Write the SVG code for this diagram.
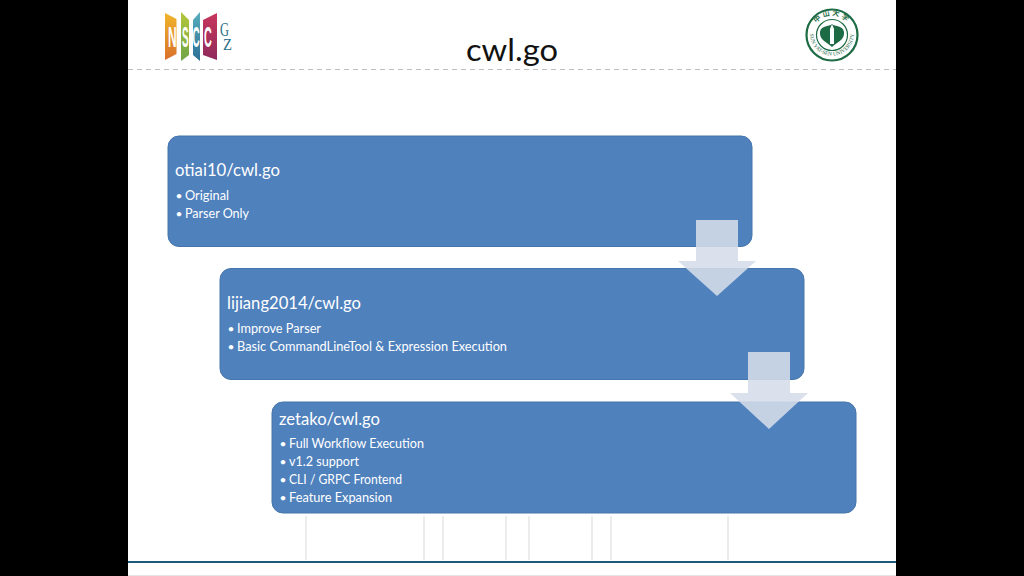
<svg xmlns="http://www.w3.org/2000/svg" width="1024" height="576" viewBox="0 0 1024 576">
<defs>
<linearGradient id="gn" x1="0" y1="0" x2="0" y2="1"><stop offset="0" stop-color="#f0b52a"/><stop offset="1" stop-color="#d9702a"/></linearGradient>
<linearGradient id="gs" x1="0" y1="0" x2="0" y2="1"><stop offset="0" stop-color="#b4c63a"/><stop offset="1" stop-color="#6fa548"/></linearGradient>
<linearGradient id="gc" x1="0" y1="0" x2="0" y2="1"><stop offset="0" stop-color="#58aebc"/><stop offset="1" stop-color="#2c6f96"/></linearGradient>
<linearGradient id="gd" x1="0" y1="0" x2="0" y2="1"><stop offset="0" stop-color="#c8365c"/><stop offset="1" stop-color="#8f2a5c"/></linearGradient>
<path id="arcTop" d="M812.500 35a19.500 19.500 0 0 1 39 0"/>
<path id="arcBottom" d="M810.500 29a22 22 0 1 0 43 0"/>
</defs>
<style>
text{font-variant-ligatures:none}
.box{fill:#4f81bd;stroke:#4674ab;stroke-width:1}
.h{font:17.500px Lato,"Noto Sans",sans-serif;fill:#fff}
.b{font:13px Lato,"Noto Sans",sans-serif;fill:#fff}
.d{font-size:12px}
.arrow{fill:#d6dde9;fill-opacity:.88}
.tick{stroke:#e2e2e2;stroke-width:1.3}
</style>
<rect width="1024" height="576" fill="#000"/>
<rect x="128" y="0" width="768" height="576" fill="#fff"/>
<line x1="128" y1="69.500" x2="896" y2="69.500" stroke="#bdbdbd" stroke-dasharray="5 4"/>
<g id="logo-nscc">
<polygon points="165,13 176.500,19 176.500,54 165,60" fill="url(#gn)"/>
<polygon points="181,12 189,20 189,55 181,61" fill="url(#gs)"/>
<polygon points="193,20 200,12 200,61 193,55" fill="url(#gc)"/>
<polygon points="203,20 217,13 217,60 203,55" fill="url(#gd)"/>
<text x="168" y="47" font-family="Liberation Sans,sans-serif" font-weight="bold" font-size="30" fill="#fff" transform="translate(168 47) scale(.4 1) translate(-168 -47)">N</text>
<text x="182" y="47" font-family="Liberation Sans,sans-serif" font-weight="bold" font-size="30" fill="#fff" transform="translate(182 47) scale(.33 1) translate(-182 -47)">S</text>
<text x="192.500" y="47" font-family="Liberation Sans,sans-serif" font-weight="bold" font-size="30" fill="#fff" transform="translate(192.500 47) scale(.33 1) translate(-192.500 -47)">C</text>
<text x="204" y="47" font-family="Liberation Sans,sans-serif" font-weight="bold" font-size="30" fill="#fff" transform="translate(204 47) scale(.36 1) translate(-204 -47)">C</text>
<text x="220" y="36" font-family="Liberation Serif,serif" font-size="18" fill="#2a6f86" textLength="9" lengthAdjust="spacingAndGlyphs">G</text>
<text x="223" y="50" font-family="Liberation Serif,serif" font-size="16" fill="#2a6f86" textLength="9" lengthAdjust="spacingAndGlyphs">Z</text>
</g>
<g id="logo-sysu">
<circle cx="832" cy="35" r="25.500" fill="#fff" stroke="#1d6b45" stroke-width="2.200"/>
<circle cx="832" cy="35" r="15.500" fill="#fff" stroke="#1d6b45" stroke-width="1.200"/>
<path d="M832 24c3 3 11 1 12 8 1 8-8 11-12 15-4-4-13-7-12-15 1-7 9-5 12-8z" fill="#1d6b45"/>
<path d="M830 44V29l2-5 2 5v15z" fill="#fff"/>
<text font-family="Noto Sans CJK SC,sans-serif" font-size="7" font-weight="bold" fill="#1d6b45" letter-spacing="2"><textPath href="#arcTop" startOffset="50%" text-anchor="middle">中山大学</textPath></text>
<text font-family="Liberation Serif,serif" font-size="5.500" fill="#1d6b45"><textPath href="#arcBottom" startOffset="50%" text-anchor="middle">SUN YAT-SEN UNIVERSITY</textPath></text>
</g>
<text id="title" x="466" y="61" font-family="Lato,Noto Sans,sans-serif" font-size="31" fill="#111" textLength="92" lengthAdjust="spacingAndGlyphs">cwl.go</text>
<g id="node-otiai10">
<rect class="box" x="168" y="136" width="584" height="110.500" rx="11"/>
<text class="h" x="175" y="176" textLength="105" lengthAdjust="spacingAndGlyphs">otiai10/cwl.go</text>
<text class="b" x="175.500" y="200"><tspan class="d">•</tspan><tspan x="185" textLength="44" lengthAdjust="spacingAndGlyphs">Original</tspan></text>
<text class="b" x="175.500" y="218"><tspan class="d">•</tspan><tspan x="185" textLength="64" lengthAdjust="spacingAndGlyphs">Parser Only</tspan></text>
</g>
<g id="node-lijiang">
<rect class="box" x="220" y="268.500" width="584" height="111" rx="11"/>
<text class="h" x="227" y="309" textLength="134" lengthAdjust="spacingAndGlyphs">lijiang2014/cwl.go</text>
<text class="b" x="227.500" y="333"><tspan class="d">•</tspan><tspan x="237" textLength="84" lengthAdjust="spacingAndGlyphs">Improve Parser</tspan></text>
<text class="b" x="227.500" y="351"><tspan class="d">•</tspan><tspan x="237" textLength="270" lengthAdjust="spacingAndGlyphs">Basic CommandLineTool &amp; Expression Execution</tspan></text>
</g>
<g id="node-zetako">
<rect class="box" x="272" y="402" width="584" height="111" rx="11"/>
<text class="h" x="279" y="425" textLength="101" lengthAdjust="spacingAndGlyphs">zetako/cwl.go</text>
<text class="b" x="279.500" y="448"><tspan class="d">•</tspan><tspan x="289" textLength="135" lengthAdjust="spacingAndGlyphs">Full Workflow Execution</tspan></text>
<text class="b" x="279.500" y="466"><tspan class="d">•</tspan><tspan x="289" textLength="70" lengthAdjust="spacingAndGlyphs">v1.2 support</tspan></text>
<text class="b" x="279.500" y="484"><tspan class="d">•</tspan><tspan x="289" textLength="113" lengthAdjust="spacingAndGlyphs">CLI / GRPC Frontend</tspan></text>
<text class="b" x="279.500" y="502"><tspan class="d">•</tspan><tspan x="289" textLength="103" lengthAdjust="spacingAndGlyphs">Feature Expansion</tspan></text>
</g>
<g id="connectors">
<polygon class="arrow" points="696,220 738,220 738,261 756,261 717,296 678,261 696,261"/>
<polygon class="arrow" points="748,352 790,352 790,393 808,393 769,429 730,393 748,393"/>
</g>
<g id="ticks">
<line class="tick" x1="306" y1="516" x2="306" y2="560"/>
<line class="tick" x1="424" y1="516" x2="424" y2="560"/>
<line class="tick" x1="443" y1="516" x2="443" y2="560"/>
<line class="tick" x1="506" y1="516" x2="506" y2="560"/>
<line class="tick" x1="529" y1="516" x2="529" y2="560"/>
<line class="tick" x1="592" y1="516" x2="592" y2="560"/>
<line class="tick" x1="611" y1="516" x2="611" y2="560"/>
<line class="tick" x1="728" y1="516" x2="728" y2="560"/>
</g>
<line x1="128" y1="562" x2="896" y2="562" stroke="#1b5a78" stroke-width="2"/>
<line x1="128" y1="575.500" x2="896" y2="575.500" stroke="#e6e6e6"/>
</svg>
